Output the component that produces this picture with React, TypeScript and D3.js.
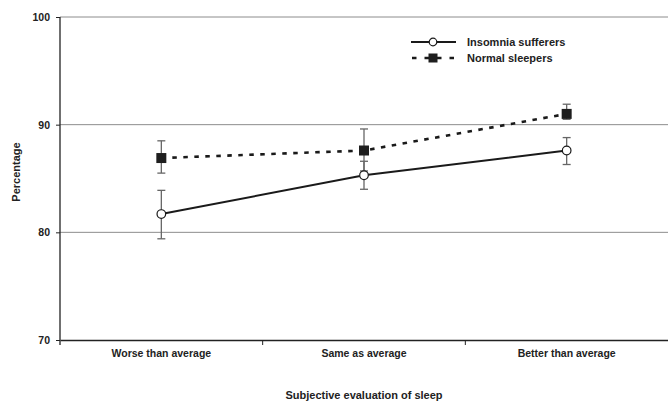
import React, { useEffect, useRef } from "react";
import * as d3 from "d3";

const categories = ["Worse than average", "Same as average", "Better than average"];
const insomniaMean = [81.7, 85.3, 87.6];
const insomniaLow = [79.4, 84.0, 86.3];
const insomniaHigh = [83.9, 86.6, 88.8];
const normalMean = [86.9, 87.6, 91.0];
const normalLow = [85.5, 85.7, 90.5];
const normalHigh = [88.5, 89.6, 91.9];
const yTicks = [70, 80, 90, 100];

const FONT = "'Liberation Sans', Arial, sans-serif";

const App = () => {
  const ref = useRef<HTMLDivElement>(null);

  useEffect(() => {
    const W = 668;
    const H = 402;
    const margin = { top: 17, right: 0, bottom: 62, left: 60 };
    const width = W - margin.left - margin.right;
    const height = H - margin.top - margin.bottom;

    d3.select(ref.current).select("svg").remove();

    const root = d3
      .select(ref.current)
      .append("svg")
      .attr("width", W)
      .attr("height", H)
      .style("display", "block")
      .style("position", "absolute")
      .style("left", "0px")
      .style("top", "0px")
      .style("font-family", FONT);

    const svg = root
      .append("g")
      .attr("transform", `translate(${margin.left},${margin.top})`);

    const x = d3.scaleBand().domain(categories).range([0, width]);
    const y = d3.scaleLinear().domain([70, 100]).range([height, 0]);

    // gridlines
    svg
      .selectAll(".grid")
      .data(yTicks.filter((t) => t !== 70))
      .enter()
      .append("line")
      .attr("x1", 0)
      .attr("x2", width)
      .attr("y1", (d) => y(d))
      .attr("y2", (d) => y(d))
      .attr("stroke", "#8c8c8c")
      .attr("stroke-width", 1);

    // y axis
    const yAxis = svg
      .append("g")
      .call(d3.axisLeft(y).tickValues(yTicks).tickSize(4).tickPadding(6));
    yAxis.select(".domain").attr("stroke", "#222").attr("stroke-width", 1.3).attr("d", `M0,0V${height + 5}`);
    yAxis.selectAll("line").attr("stroke", "#222");
    yAxis
      .selectAll("text")
      .style("font-size", "10.5px")
      .style("font-weight", "700")
      .style("font-family", FONT)
      .attr("fill", "#222");

    // x axis
    const xAxis = svg
      .append("g")
      .attr("transform", `translate(0,${height})`)
      .call(d3.axisBottom(x).tickSize(0).tickPadding(10));
    xAxis.select(".domain").attr("stroke", "#222").attr("stroke-width", 1.3);
    xAxis
      .selectAll("text")
      .style("font-size", "10.5px")
      .style("font-weight", "700")
      .style("font-family", FONT)
      .attr("fill", "#222");
    svg
      .selectAll(".xtick")
      .data(categories.slice(1))
      .enter()
      .append("line")
      .attr("x1", (d) => x(d)!)
      .attr("x2", (d) => x(d)!)
      .attr("y1", height)
      .attr("y2", height + 5)
      .attr("stroke", "#222");

    const cx = (i: number) => x(categories[i])! + x.bandwidth() / 2;

    const drawErr = (lo: number[], hi: number[]) => {
      const g = svg.append("g").attr("stroke", "#666").attr("stroke-width", 1.3);
      lo.forEach((l, i) => {
        const h = hi[i];
        g.append("line").attr("x1", cx(i)).attr("x2", cx(i)).attr("y1", y(l)).attr("y2", y(h));
        g.append("line").attr("x1", cx(i) - 4).attr("x2", cx(i) + 4).attr("y1", y(l)).attr("y2", y(l));
        g.append("line").attr("x1", cx(i) - 4).attr("x2", cx(i) + 4).attr("y1", y(h)).attr("y2", y(h));
      });
    };

    drawErr(normalLow, normalHigh);
    drawErr(insomniaLow, insomniaHigh);

    const line = d3
      .line<number>()
      .x((_, i) => cx(i))
      .y((d) => y(d));

    svg
      .append("path")
      .datum(normalMean)
      .attr("d", line)
      .attr("fill", "none")
      .attr("stroke", "#1a1a1a")
      .attr("stroke-width", 2.6)
      .attr("stroke-dasharray", "4.5,6.5");

    svg
      .append("path")
      .datum(insomniaMean)
      .attr("d", line)
      .attr("fill", "none")
      .attr("stroke", "#1a1a1a")
      .attr("stroke-width", 2);

    svg
      .selectAll(".sq")
      .data(normalMean)
      .enter()
      .append("rect")
      .attr("x", (_, i) => cx(i) - 5)
      .attr("y", (d) => y(d) - 5)
      .attr("width", 10)
      .attr("height", 10)
      .attr("fill", "#1e1e1e");

    svg
      .selectAll(".circ")
      .data(insomniaMean)
      .enter()
      .append("circle")
      .attr("cx", (_, i) => cx(i))
      .attr("cy", (d) => y(d))
      .attr("r", 4.3)
      .attr("fill", "#fff")
      .attr("stroke", "#1a1a1a")
      .attr("stroke-width", 1.2);

    // legend
    const legend = root.append("g").attr("transform", "translate(411,42)");
    legend.append("line").attr("x1", 0).attr("x2", 45).attr("y1", 0).attr("y2", 0).attr("stroke", "#1a1a1a").attr("stroke-width", 2);
    legend.append("circle").attr("cx", 22).attr("cy", 0).attr("r", 3.8).attr("fill", "#fff").attr("stroke", "#1a1a1a").attr("stroke-width", 1.2);
    legend.append("line").attr("x1", 1).attr("x2", 45).attr("y1", 16).attr("y2", 16).attr("stroke", "#1a1a1a").attr("stroke-width", 2.6).attr("stroke-dasharray", "4.5,8");
    legend.append("rect").attr("x", 17.5).attr("y", 11.5).attr("width", 9).attr("height", 9).attr("fill", "#1e1e1e");
    legend
      .selectAll(".lt")
      .data(["Insomnia sufferers", "Normal sleepers"])
      .enter()
      .append("text")
      .attr("x", 56)
      .attr("y", (_, i) => i * 16 + 4)
      .style("font-size", "11px")
      .style("font-weight", "700")
      .attr("fill", "#222")
      .text((d) => d);

    // axis titles
    root
      .append("text")
      .attr("transform", `translate(20,172) rotate(-90)`)
      .attr("text-anchor", "middle")
      .style("font-size", "11px")
      .style("font-weight", "700")
      .attr("fill", "#222")
      .text("Percentage");

    root
      .append("text")
      .attr("x", 364)
      .attr("y", 399)
      .attr("text-anchor", "middle")
      .style("font-size", "11px")
      .style("font-weight", "700")
      .attr("fill", "#222")
      .text("Subjective evaluation of sleep");
  }, []);

  return <div ref={ref}></div>;
};

export default App;
